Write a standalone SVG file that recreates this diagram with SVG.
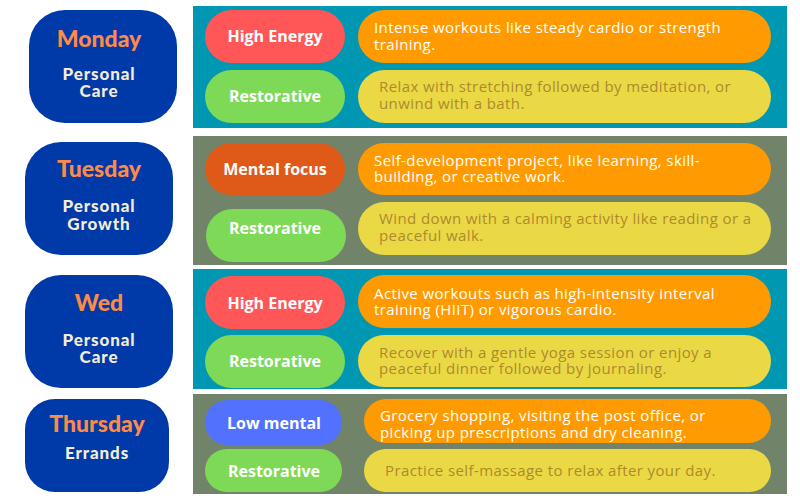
<svg xmlns="http://www.w3.org/2000/svg" width="800" height="500" viewBox="0 0 800 500">
<style>
.bg{fill:#ffffff}
.teal{fill:#0097b2}
.sage{fill:#71846a}
.day{fill:#0039a8}
.dt{font-family:"Lato","Noto Sans",sans-serif;font-weight:900;font-size:23px;fill:#ff8a48;text-anchor:middle}
.ds{font-family:"Lato","Noto Sans",sans-serif;font-weight:900;font-size:17px;letter-spacing:0.9px;fill:#f3ecd8;text-anchor:middle}
.pl{font-family:"Open Sans","Noto Sans",sans-serif;font-weight:700;font-size:16px;fill:#ffffff;text-anchor:middle}
.red{fill:#ff5757}
.green{fill:#7ed957}
.rust{fill:#df5a18}
.blue{fill:#5271ff}
.orange{fill:#ff9b00}
.yellow{fill:#ebd845}
.ot{font-family:"Open Sans","Noto Sans",sans-serif;font-size:15px;letter-spacing:0.4px;fill:#ffffff}
.yt{font-family:"Open Sans","Noto Sans",sans-serif;font-size:15px;letter-spacing:0.4px;fill:#ae8a2c}
</style>
<rect class="bg" x="0" y="0" width="800" height="500"/>
<g id="panels">
<rect class="teal" x="193" y="6" width="594" height="122"/>
<rect class="sage" x="193" y="136" width="594" height="129"/>
<rect class="teal" x="193" y="269" width="594" height="120"/>
<rect class="sage" x="193" y="394" width="594" height="100"/>
</g>
<g id="monday">
<rect class="day" x="29" y="10" width="148" height="113" rx="36"/>
<text class="dt" x="99" y="47">Monday</text>
<text class="ds" x="99" y="80">Personal</text>
<text class="ds" x="99" y="97">Care</text>
</g>
<g id="tuesday">
<rect class="day" x="25" y="142" width="148" height="113" rx="36"/>
<text class="dt" x="99" y="177">Tuesday</text>
<text class="ds" x="99" y="212">Personal</text>
<text class="ds" x="99" y="230">Growth</text>
</g>
<g id="wed">
<rect class="day" x="25" y="275" width="148" height="113" rx="36"/>
<text class="dt" x="99" y="311">Wed</text>
<text class="ds" x="99" y="346">Personal</text>
<text class="ds" x="99" y="363">Care</text>
</g>
<g id="thursday">
<rect class="day" x="25" y="399" width="144" height="93" rx="30"/>
<text class="dt" x="97" y="432">Thursday</text>
<text class="ds" x="97" y="459">Errands</text>
</g>
<g id="mon-high">
<rect class="red" x="205" y="10" width="140" height="53" rx="26.5"/>
<text class="pl" x="275" y="42">High Energy</text>
</g>
<g id="mon-rest">
<rect class="green" x="205" y="70" width="140" height="53" rx="26.5"/>
<text class="pl" x="275" y="102">Restorative</text>
</g>
<g id="tue-mental">
<rect class="rust" x="205" y="143" width="140" height="52" rx="26"/>
<text class="pl" x="275" y="175">Mental focus</text>
</g>
<g id="tue-rest">
<rect class="green" x="206" y="209" width="140" height="53" rx="26.5"/>
<text class="pl" x="275" y="234">Restorative</text>
</g>
<g id="wed-high">
<rect class="red" x="205" y="276" width="140" height="53" rx="26.5"/>
<text class="pl" x="275" y="309">High Energy</text>
</g>
<g id="wed-rest">
<rect class="green" x="205" y="335" width="140" height="53" rx="26.5"/>
<text class="pl" x="275" y="367">Restorative</text>
</g>
<g id="thu-low">
<rect class="blue" x="205" y="400" width="137" height="45" rx="22.5"/>
<text class="pl" x="274" y="429">Low mental</text>
</g>
<g id="thu-rest">
<rect class="green" x="205" y="449" width="137" height="43" rx="21.5"/>
<text class="pl" x="274" y="477">Restorative</text>
</g>
<g id="mon-high-desc">
<rect class="orange" x="358" y="10" width="413" height="53" rx="26.5"/>
<text class="ot" x="374" y="33">Intense workouts like steady cardio or strength</text>
<text class="ot" x="374" y="50">training.</text>
</g>
<g id="mon-rest-desc">
<rect class="yellow" x="358" y="70" width="413" height="53" rx="26.5"/>
<text class="yt" x="379" y="92">Relax with stretching followed by meditation, or</text>
<text class="yt" x="379" y="109">unwind with a bath.</text>
</g>
<g id="tue-mental-desc">
<rect class="orange" x="358" y="143" width="413" height="52" rx="26"/>
<text class="ot" x="374" y="166">Self-development project, like learning, skill-</text>
<text class="ot" x="374" y="182">building, or creative work.</text>
</g>
<g id="tue-rest-desc">
<rect class="yellow" x="358" y="202" width="413" height="53" rx="26.5"/>
<text class="yt" x="379" y="224">Wind down with a calming activity like reading or a</text>
<text class="yt" x="379" y="241">peaceful walk.</text>
</g>
<g id="wed-high-desc">
<rect class="orange" x="358" y="275" width="413" height="53" rx="26.5"/>
<text class="ot" x="374" y="299">Active workouts such as high-intensity interval</text>
<text class="ot" x="374" y="315">training (HIIT) or vigorous cardio.</text>
</g>
<g id="wed-rest-desc">
<rect class="yellow" x="358" y="335" width="413" height="52" rx="26"/>
<text class="yt" x="379" y="358">Recover with a gentle yoga session or enjoy a</text>
<text class="yt" x="379" y="374">peaceful dinner followed by journaling.</text>
</g>
<g id="thu-low-desc">
<rect class="orange" x="364" y="399" width="407" height="44" rx="22"/>
<text class="ot" x="380" y="421">Grocery shopping, visiting the post office, or</text>
<text class="ot" x="380" y="438">picking up prescriptions and dry cleaning.</text>
</g>
<g id="thu-rest-desc">
<rect class="yellow" x="364" y="449" width="407" height="43" rx="21.5"/>
<text class="yt" x="385" y="476">Practice self-massage to relax after your day.</text>
</g>
<g id="connectors"></g>
</svg>
